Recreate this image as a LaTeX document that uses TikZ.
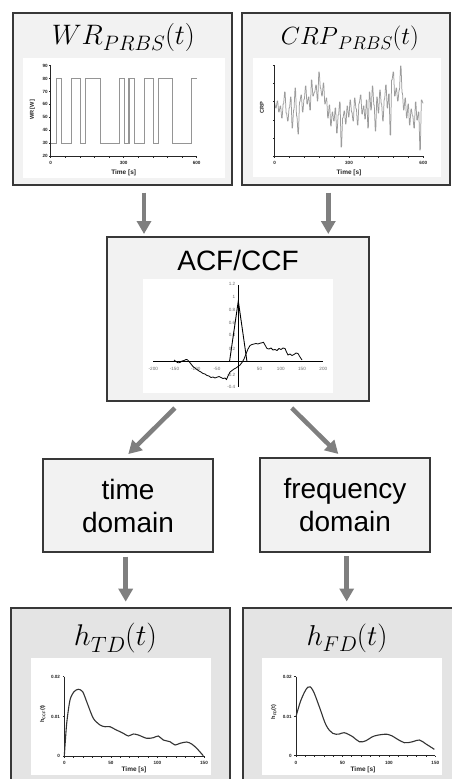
\RequirePackage{fix-cm}
\documentclass[tikz,border=0pt]{standalone}
\usepackage{graphicx}
\usepackage{fontspec}
\setsansfont{Liberation Sans}
\usetikzlibrary{arrows.meta}

\definecolor{boxfill}{HTML}{F2F2F2}
\definecolor{outfill}{HTML}{E4E4E4}
\definecolor{edge}{HTML}{383838}
\definecolor{arrowgray}{HTML}{7F7F7F}
\definecolor{siggray}{HTML}{959595}
\definecolor{crpgray}{HTML}{9C9C9C}
\definecolor{labgray}{HTML}{6A6A6A}

\newcommand{\ticklab}{\fontsize{4.6}{5}\selectfont\sffamily\bfseries}
\newcommand{\ylab}{\fontsize{5.6}{6}\selectfont\sffamily\bfseries}
\newcommand{\axlab}{\fontsize{6.5}{7}\selectfont\sffamily\bfseries}
\newcommand{\acflab}{\fontsize{4.6}{5}\selectfont\sffamily}
\newcommand{\bigsans}{\fontsize{28}{33}\selectfont\sffamily}
% math title: main symbol, lowered subscript, argument; scaled to a given width
\newcommand{\signaltitle}[3]{\resizebox{#1}{!}{\fontsize{27}{32}\selectfont
  $#2$\raisebox{-6.5pt}{\fontsize{20}{20}\selectfont$#3$}$(t)$}}

\tikzset{
  panel/.style={draw=edge, line width=1.5pt, fill=boxfill, anchor=north west,
    inner sep=0pt, outer sep=0pt},
  outpanel/.style={panel, fill=outfill},
  stagebox/.style={draw=edge, line width=1.5pt, fill=boxfill, inner sep=0pt,
    outer sep=0pt, align=center, font=\bigsans},
  flow/.style={draw=arrowgray, line width=4.5pt, -{Triangle[width=14pt,length=13pt]}},
  axisline/.style={draw=black!85, line width=0.7pt},
  ticklabel/.style={font=\ticklab, inner sep=0.8pt, text=black!85},
  ylabeltext/.style={font=\ylab, inner sep=0pt, text=black!85, rotate=90},
  axislabel/.style={font=\axlab, inner sep=0pt, text=black!85},
  acfline/.style={draw=black, line width=0.9pt},
  acftick/.style={font=\acflab, inner sep=0.5pt, text=labgray},
  wrsignal/.style={draw=siggray, line width=1.1pt},
  crpsignal/.style={draw=crpgray, line width=0.75pt, line join=round},
  response/.style={draw=black!80, line width=1.1pt},
  titletext/.style={inner sep=0pt, anchor=base}
}

\begin{document}
\begin{tikzpicture}[x=1pt, y=-1pt]
\useasboundingbox (0,0) rectangle (452,779);
\clip (0,0) rectangle (452,779);

% ---------- frames ----------
\node[panel, minimum width=219pt, minimum height=172pt] (wr) at (13,13) {};
\node[panel, minimum width=208pt, minimum height=172pt] (crp) at (242,13) {};
\node[panel, minimum width=262pt, minimum height=164pt] (acf) at (107,237) {};
\node[stagebox, minimum width=170pt, minimum height=93pt] (td) at (128,505.5) {time\\domain};
\node[stagebox, minimum width=170pt, minimum height=94pt] (fd) at (345,505) {frequency\\domain};
\node[outpanel, minimum width=219pt, minimum height=200pt] (htd) at (11,608) {};
\node[outpanel, minimum width=227pt, minimum height=200pt] (hfd) at (243,608) {};

% ---------- titles ----------
\node[titletext] (wrtitle) at (123.4,44) {\signaltitle{143pt}{WR}{PRBS}};
\node[titletext] (crptitle) at (350,44) {\signaltitle{138pt}{CRP}{PRBS}};
\node[font=\bigsans, inner sep=0pt, anchor=base] (acftitle) at (238,270.7) {ACF/CCF};
\node[titletext] (htdtitle) at (115.5,645) {\signaltitle{83pt}{h}{TD}};
\node[titletext] (hfdtitle) at (347,645) {\signaltitle{81pt}{h}{FD}};

% ---------- WR plot ----------
\fill[white] (23,58) rectangle (225,178);
\begin{scope}[shift={(50.7,156)}, x=0.2433pt, y=1.29pt]
  \draw[wrsignal] (0,10) -- (25,10) -- (25,60) -- (45,60) -- (45,10) -- (84,10)
    -- (84,60) -- (123,60) -- (123,10) -- (144,10) -- (144,60) -- (205,60)
    -- (205,10) -- (281,10) -- (281,60) -- (303,60) -- (303,10) -- (322,10)
    -- (322,60) -- (345,60) -- (345,10) -- (384,10) -- (384,60) -- (422,60)
    -- (422,10) -- (442,10) -- (442,60) -- (501,60) -- (501,10) -- (579,10)
    -- (579,60) -- (600,60);
  \draw[axisline] (0,70) -- (0,0) -- (600,0);
  \foreach \v [count=\k] in {20,30,...,90}
    \draw[axisline] (0,\v-20) -- ++(-1.8pt,0) node[ticklabel, anchor=east] (wry\k) {\v};
  \foreach \t in {0,60,...,600}
    \draw[axisline] (\t,0) -- ++(0,-1.8pt);
  \foreach \t [count=\k] in {0,300,600}
    \node[ticklabel] (wrx\k) at ([yshift=-7pt]\t,0) {\t};
\end{scope}
\node[axislabel] (wrtime) at (123.7,173) {Time [s]};
\node[ylabeltext] (wrylab) at (32.5,110) {WR [W]};

% ---------- CRP plot ----------
\fill[white] (253,58) rectangle (441,177);
\begin{scope}[shift={(274.7,0)}, x=0.2477pt]
  \draw[crpsignal] (0,103) foreach \v [count=\i] in {
    108,101,112,106,118,104,92,113,121,108,97,128,110,88,116,134,102,95,112,99,
    86,104,97,110,80,96,92,85,101,72,88,96,83,104,98,118,105,126,112,121,
    108,133,115,102,147,118,111,124,106,117,100,112,121,98,109,125,103,95,114,106,
    119,100,128,92,110,86,105,131,97,113,90,104,121,99,85,108,94,135,80,72,
    96,88,101,90,66,93,110,98,118,104,125,109,116,128,102,120,112,150,100,103}
    { -- (\i*6-2,\v) -- (\i*6,\v) };
  \draw[axisline] (0,65.7) -- (0,156) -- (600,156);
  \foreach \k in {0,...,5}
    \draw[axisline] (0,156-18.06*\k) -- ++(-1.8pt,0);
  \foreach \t in {0,60,...,600}
    \draw[axisline] (\t,156) -- ++(0,-1.8pt);
  \foreach \t [count=\k] in {0,300,600}
    \node[ticklabel] (crpx\k) at (\t,163) {\t};
\end{scope}
\node[axislabel] (crptime) at (349,173) {Time [s]};
\node[ylabeltext] (crpylab) at (262,108) {CRP};

% ---------- ACF / CCF plot ----------
\fill[white] (143,279) rectangle (333,393);
\draw[acfline] (153.3,361.7) -- (323.3,361.7);
\draw[acfline] (238.3,285) -- (238.3,386.7);
\foreach \lab/\xx [count=\k] in {-200/153.3,-150/174.5,-100/195.8,-50/217,50/259.5,100/280.8,150/302,200/323.3}
  \node[acftick] (acfx\k) at (\xx,369) {\lab};
\foreach \lab/\yy [count=\k] in {1.2/284.3,1/297.3,0.8/310,0.6/322.7,0.4/335.3,0.2/348.7,-0.2/374.6,-0.4/387.3}
  \node[acftick, anchor=east] (acfy\k) at (236,\yy) {\lab};
\draw[acfline, line join=miter] (229.5,361.7) -- (238.3,301) -- (247,361.7);
\draw[acfline, line width=0.8pt] plot coordinates {
  (174,360) (176,361.5) (178,362.8) (180,362.5) (182,361) (184,360.5) (186,359.5)
  (187.5,359.8) (189,361.5) (191,364) (193,366.5) (195,368) (197,369.5) (199,371)
  (201,372) (203,373.5) (205,374) (207,375.5) (209,376) (211,377.5) (213,377)
  (215,378) (217,377.2) (219,376.5) (221,377.5) (223,378.5) (225,378) (226.5,379.5)
  (228,376) (230,372) (232,370.5) (234,369) (236,368) (238,366.5) (240,365)
  (242,362.5) (244,359) (246,354) (248,349) (250,345.5) (252,344.5) (254,344)
  (256,343.5) (258,344) (260,343.2) (262,342.8) (263.5,342.3) (265,345) (267,348.5)
  (269,349) (271,348) (273,350) (275,349.5) (277,350.5) (279,348.5) (281,349.5)
  (283,348) (285,348.5) (286.5,352) (288,355) (290,354) (292,355.5) (294,354.5)
  (296,353) (298,353.5) (300,357) (302,360)};

% ---------- h_TD plot ----------
\fill[white] (31,658) rectangle (211,775);
\draw[axisline] (64.3,676.7) -- (64.3,756) -- (204,756);
\foreach \yy in {676.7,716.7,756}
  \draw[axisline] (64.3,\yy) -- ++(-1.8pt,0);
\foreach \k in {0,...,15}
  \draw[axisline] (64.3+\k*9.313,756) -- ++(0,-1.5pt);
\foreach \lab/\yy [count=\k] in {0.02/676.7,0.01/716.7,0/756}
  \node[ticklabel, anchor=east] (tdy\k) at (61,\yy) {\lab};
\foreach \lab/\xx [count=\k] in {0/64.3,50/110.9,100/157.4,150/204}
  \node[ticklabel] (tdx\k) at (\xx,763) {\lab};
\node[axislabel] (tdtime) at (134,770) {Time [s]};
\node[ylabeltext] (tdylab) at (42.7,714) {h\textsubscript{CCF}(t)};
\draw[response] plot[smooth, tension=0.45] coordinates {
  (64.3,756) (66.7,723.3) (70,700) (74,691.7) (78.3,689.3) (82.7,691.7)
  (87.3,703.3) (93.3,718.3) (100,725) (105,726.7) (110,726.7) (115,729.3)
  (123.3,733.3) (128.3,736) (133.3,734) (138.3,735) (146.7,738.3) (153.3,737.7)
  (158.3,736) (163.3,740) (170,741.7) (175,745) (180,743.3) (186.7,742)
  (191.7,744) (196.7,748.3) (203.3,755.7)};

% ---------- h_FD plot ----------
\fill[white] (262,658) rectangle (442,775);
\draw[axisline] (296,676.7) -- (296,755.7) -- (435.3,755.7);
\foreach \yy in {676.7,716.7,755.7}
  \draw[axisline] (296,\yy) -- ++(-1.8pt,0);
\foreach \k in {0,...,15}
  \draw[axisline] (296+\k*9.287,755.7) -- ++(0,-1.5pt);
\foreach \lab/\yy [count=\k] in {0.02/676.7,0.01/716.7,0/755.7}
  \node[ticklabel, anchor=east] (fdy\k) at (292.7,\yy) {\lab};
\foreach \lab/\xx [count=\k] in {0/296,50/342.4,100/388.9,150/435.3}
  \node[ticklabel] (fdx\k) at (\xx,763) {\lab};
\node[axislabel] (fdtime) at (363,770) {Time [s]};
\node[ylabeltext] (fdylab) at (273.7,712) {h\textsubscript{FD}(t)};
\draw[response] plot[smooth, tension=0.6] coordinates {
  (296,716.7) (301,700) (307.7,687.3) (312.7,690) (319.3,706.7) (326,725)
  (332.7,733.3) (339.3,734) (344.3,732.7) (352.7,736.7) (359.3,741.7) (366,740.7)
  (374.3,736) (387.7,734.3) (396,738.3) (404.3,742.7) (412.7,741.7) (419.3,740)
  (426,744) (434.3,749.3)};

% ---------- connectors ----------
\draw[flow, shorten <=7.7pt, shorten >=3pt] ([xshift=21.5pt]wr.south) -- ([xshift=-94pt]acf.north);
\draw[flow, shorten <=7.7pt, shorten >=3pt] ([xshift=-17.7pt]crp.south) -- ([xshift=90.3pt]acf.north);
\draw[flow, shorten <=10pt, shorten >=7pt] ([xshift=-56pt]acf.south) -- ([xshift=-4.7pt]td.north);
\draw[flow, shorten <=10pt, shorten >=5.7pt] ([xshift=46.6pt]acf.south) -- ([xshift=-2.6pt]fd.north);
\draw[flow, shorten <=4.7pt, shorten >=6.3pt] ([xshift=-2.3pt]td.south) -- ([xshift=5.2pt]htd.north);
\draw[flow, shorten <=4pt, shorten >=6.5pt] ([xshift=1.7pt]fd.south) -- ([xshift=-9.8pt]hfd.north);
\end{tikzpicture}
\end{document}
